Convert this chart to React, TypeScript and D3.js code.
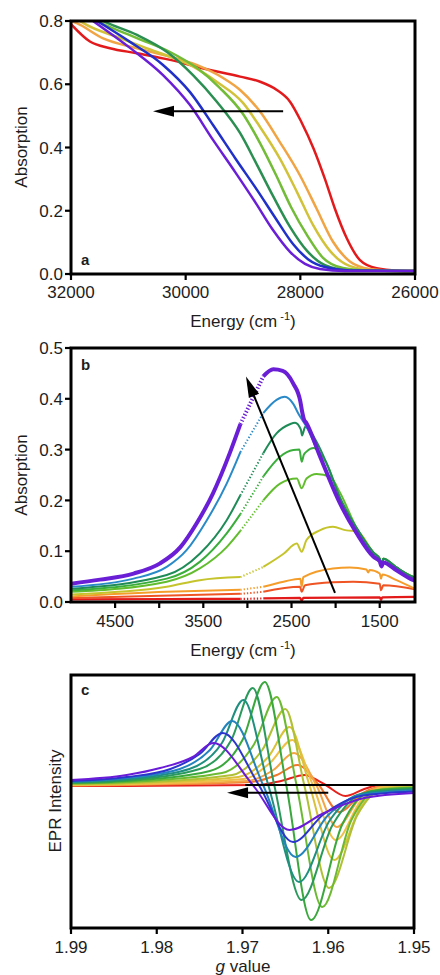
import React from "react";
import * as d3 from "d3";

type Pt = [number, number];

const FONT = "'Liberation Sans', Arial, Helvetica, sans-serif";
const INK = "#1d1d1d";

// ---------- panel a : energy (cm-1) vs absorption
const uvRed: Pt[] = [[32000, 0.79], [31670, 0.735], [31320, 0.714], [30850, 0.698], [30270, 0.677], [29690, 0.65], [29050, 0.624], [28700, 0.608], [28410, 0.582], [28180, 0.545], [27980, 0.48], [27770, 0.397], [27570, 0.3], [27400, 0.208], [27190, 0.113], [26960, 0.044], [26670, 0.018], [26300, 0.0105], [26000, 0.0095]];
const uvOrange: Pt[] = [[32000, 0.8], [31900, 0.793], [31440, 0.745], [30850, 0.714], [30270, 0.687], [29810, 0.661], [29340, 0.619], [29050, 0.582], [28700, 0.513], [28360, 0.418], [28010, 0.313], [27720, 0.208], [27430, 0.102], [27130, 0.039], [26790, 0.016], [26400, 0.0105], [26000, 0.0095]];
const uvYellow: Pt[] = [[32000, 0.82], [31791, 0.794], [31145, 0.746], [30500, 0.702], [29924, 0.661], [29453, 0.607], [29000, 0.541], [28703, 0.465], [28354, 0.364], [28058, 0.259], [27779, 0.155], [27483, 0.073], [27134, 0.025], [26697, 0.011], [26000, 0.0095]];
const uvLime: Pt[] = [[32000, 0.85], [31546, 0.8], [30849, 0.746], [30273, 0.702], [29802, 0.651], [29401, 0.588], [29000, 0.506], [28703, 0.414], [28424, 0.313], [28163, 0.212], [27883, 0.123], [27604, 0.051], [27256, 0.019], [26785, 0.011], [26000, 0.0095]];
const uvGreen: Pt[] = [[32000, 0.86], [31442, 0.8], [30849, 0.756], [30325, 0.702], [29872, 0.629], [29453, 0.544], [29052, 0.446], [28756, 0.345], [28477, 0.247], [28180, 0.149], [27883, 0.073], [27570, 0.028], [27134, 0.011], [26000, 0.0095]];
const uvBlue: Pt[] = [[32000, 0.85], [31546, 0.8], [30971, 0.734], [30395, 0.661], [29924, 0.575], [29523, 0.471], [29139, 0.367], [28756, 0.266], [28424, 0.174], [28128, 0.095], [27866, 0.047], [27570, 0.022], [27134, 0.011], [26000, 0.0095]];
const uvViolet: Pt[] = [[32000, 0.85], [31616, 0.8], [30971, 0.715], [30395, 0.629], [29924, 0.534], [29523, 0.424], [29139, 0.323], [28790, 0.228], [28477, 0.139], [28180, 0.07], [27918, 0.032], [27657, 0.016], [27221, 0.0095], [26000, 0.0095]];
const uvSeries = [uvRed, uvOrange, uvYellow, uvLime, uvGreen, uvBlue, uvViolet];
const uvColors = ["#e31a1c", "#f0a444", "#d2c23a", "#72bc38", "#2b8f52", "#2030c8", "#6a1ed6"];
const aXTicks = [32000, 30000, 28000, 26000];
const aYTicks = [0, 0.2, 0.4, 0.6, 0.8];
const aArrow: Pt[] = [[28300, 0.515], [30570, 0.515]];

// ---------- panel b : IR absorption
const irRed: Pt[] = [[5000, 0.005], [3500, 0.006], [3080, 0.006], [2820, 0.007], [2404, 0.008], [2385, 0.003], [2366, 0.008], [1500, 0.009], [1485, 0.004], [1470, 0.009], [1100, 0.01]];
const irRedOrange: Pt[] = [[5000, 0.008], [3080, 0.016], [2820, 0.02], [2404, 0.03], [2385, 0.02], [2347, 0.033], [2030, 0.039], [1800, 0.04], [1500, 0.036], [1485, 0.023], [1460, 0.033], [1100, 0.025]];
const irOrange: Pt[] = [[5000, 0.011], [3915, 0.02], [3080, 0.024], [2820, 0.03], [2590, 0.04], [2400, 0.046], [2385, 0.03], [2366, 0.049], [2030, 0.066], [1840, 0.068], [1650, 0.064], [1630, 0.058], [1615, 0.063], [1500, 0.056], [1485, 0.046], [1470, 0.054], [1310, 0.043], [1100, 0.026]];
const irYellow: Pt[] = [[5000, 0.015], [3915, 0.03], [3540, 0.043], [3080, 0.049], [2820, 0.069], [2590, 0.095], [2440, 0.115], [2385, 0.099], [2330, 0.122], [2180, 0.141], [2030, 0.148], [1875, 0.141], [1760, 0.14], [1570, 0.097], [1500, 0.085], [1480, 0.072], [1460, 0.085], [1310, 0.068], [1155, 0.052], [1100, 0.048]];
const irLime: Pt[] = [[5000, 0.02], [3915, 0.04], [3540, 0.066], [3235, 0.108], [3080, 0.14], [2820, 0.2], [2630, 0.233], [2440, 0.243], [2385, 0.224], [2330, 0.243], [2215, 0.252], [2060, 0.246], [1950, 0.215], [1760, 0.145], [1570, 0.097], [1500, 0.085], [1480, 0.072], [1460, 0.085], [1310, 0.068], [1155, 0.052], [1100, 0.048]];
const irGreen: Pt[] = [[5000, 0.023], [3915, 0.046], [3540, 0.079], [3235, 0.135], [3080, 0.173], [2820, 0.247], [2630, 0.286], [2480, 0.299], [2410, 0.3], [2385, 0.276], [2360, 0.29], [2330, 0.296], [2250, 0.303], [2100, 0.272], [1950, 0.205], [1760, 0.145], [1570, 0.097], [1500, 0.085], [1480, 0.072], [1460, 0.085], [1310, 0.068], [1155, 0.052], [1100, 0.048]];
const irDarkGreen: Pt[] = [[5000, 0.026], [3915, 0.053], [3540, 0.095], [3235, 0.161], [3080, 0.21], [2820, 0.293], [2670, 0.332], [2520, 0.35], [2460, 0.353], [2395, 0.34], [2380, 0.328], [2360, 0.338], [2345, 0.345], [2215, 0.315], [2100, 0.272], [1950, 0.205], [1760, 0.145], [1570, 0.097], [1500, 0.085], [1480, 0.072], [1460, 0.085], [1310, 0.068], [1155, 0.052], [1100, 0.048]];
const irBlue: Pt[] = [[5000, 0.03], [4290, 0.046], [3915, 0.069], [3690, 0.102], [3460, 0.161], [3235, 0.233], [3080, 0.295], [2820, 0.372], [2670, 0.398], [2575, 0.404], [2480, 0.39], [2420, 0.37], [2330, 0.345], [2180, 0.287], [1950, 0.194], [1760, 0.135], [1570, 0.089], [1500, 0.08], [1480, 0.07], [1460, 0.078], [1310, 0.0625], [1155, 0.046], [1100, 0.042]];
const irViolet: Pt[] = [[5000, 0.036], [4670, 0.044], [4290, 0.056], [3990, 0.076], [3760, 0.108], [3575, 0.155], [3390, 0.214], [3200, 0.293], [3080, 0.35], [2820, 0.444], [2706, 0.458], [2600, 0.455], [2480, 0.43], [2400, 0.395], [2380, 0.375], [2360, 0.36], [2330, 0.352], [2180, 0.288], [1950, 0.194], [1760, 0.135], [1570, 0.089], [1500, 0.08], [1480, 0.07], [1460, 0.078], [1310, 0.0625], [1155, 0.046], [1100, 0.042]];
const irSeries = [irRed, irRedOrange, irOrange, irYellow, irLime, irGreen, irDarkGreen, irBlue, irViolet];
const irColors = ["#e21a1a", "#ee5424", "#f59d2a", "#c6c42c", "#62bd2e", "#3aae3a", "#1f8c58", "#2a8ac8", "#6a1ed6"];
const irWidths = [2.2, 2, 2, 2, 2, 2, 2, 2, 4];
const bXTicks = [4500, 4000, 3500, 3000, 2500, 2000, 1500];
const bXLabels = [4500, 3500, 2500, 1500];
const bYTicks = [0, 0.1, 0.2, 0.3, 0.4, 0.5];
const bDotted: Pt = [3080, 2820];
const bArrow: Pt[] = [[2007, 0.018], [3016, 0.444]];

// ---------- panel c : EPR, g value vs intensity
const eprViolet: Pt[] = [[1.99, 0.05], [1.9835, 0.1], [1.9796, 0.17], [1.9758, 0.28], [1.9734, 0.42], [1.9688, 0], [1.9645, -0.45], [1.9605, -0.28], [1.9558, -0.13], [1.95, -0.08]];
const eprBlue: Pt[] = [[1.99, 0.04], [1.9835, 0.08], [1.9784, 0.16], [1.975, 0.31], [1.9723, 0.52], [1.9681, 0], [1.9641, -0.57], [1.9605, -0.29], [1.9562, -0.11], [1.95, -0.065]];
const eprSky: Pt[] = [[1.99, 0.035], [1.9835, 0.07], [1.9773, 0.16], [1.9738, 0.35], [1.9712, 0.64], [1.9676, 0], [1.9638, -0.72], [1.96, -0.3], [1.9562, -0.1], [1.95, -0.055]];
const eprTeal: Pt[] = [[1.99, 0.03], [1.9835, 0.06], [1.9762, 0.16], [1.9724, 0.42], [1.9699, 0.85], [1.967, 0], [1.9634, -0.97], [1.9598, -0.35], [1.9562, -0.09], [1.95, -0.045]];
const eprSea: Pt[] = [[1.99, 0.025], [1.9835, 0.05], [1.975, 0.16], [1.9713, 0.45], [1.9688, 0.97], [1.9663, 0], [1.9631, -1.15], [1.9595, -0.4], [1.9557, -0.08], [1.95, -0.04]];
const eprGreen: Pt[] = [[1.99, 0.02], [1.9835, 0.04], [1.9738, 0.14], [1.97, 0.45], [1.9674, 1.03], [1.9649, 0], [1.962, -1.35], [1.9584, -0.4], [1.955, -0.06], [1.95, -0.03]];
const eprLime: Pt[] = [[1.99, 0.015], [1.9835, 0.03], [1.9724, 0.12], [1.9687, 0.4], [1.966, 0.88], [1.9637, 0], [1.9607, -1.22], [1.9573, -0.35], [1.9542, -0.05], [1.95, -0.025]];
const eprOlive: Pt[] = [[1.99, 0.01], [1.9835, 0.02], [1.9712, 0.1], [1.9677, 0.35], [1.965, 0.76], [1.9628, 0], [1.9599, -1.03], [1.9566, -0.3], [1.9537, -0.04], [1.95, -0.02]];
const eprYellow: Pt[] = [[1.99, 0.005], [1.9835, 0.015], [1.9705, 0.08], [1.967, 0.28], [1.9645, 0.58], [1.9622, 0], [1.9593, -0.75], [1.9562, -0.22], [1.9535, -0.03], [1.95, -0.015]];
const eprGold: Pt[] = [[1.99, 0], [1.9835, 0.01], [1.9699, 0.06], [1.9668, 0.22], [1.9642, 0.45], [1.9618, 0], [1.9591, -0.55], [1.9562, -0.16], [1.9535, -0.02], [1.95, -0.01]];
const eprApricot: Pt[] = [[1.99, -0.002], [1.9835, 0.005], [1.9695, 0.04], [1.9664, 0.15], [1.964, 0.32], [1.9614, 0], [1.959, -0.42], [1.9562, -0.12], [1.9535, -0.015], [1.95, -0.005]];
const eprOrange: Pt[] = [[1.99, -0.005], [1.9835, 0], [1.9691, 0.03], [1.966, 0.1], [1.9636, 0.2], [1.9611, 0], [1.9587, -0.27], [1.956, -0.08], [1.9535, -0.01], [1.95, 0]];
const eprRed: Pt[] = [[1.99, -0.01], [1.9835, -0.01], [1.9683, 0], [1.9655, 0.04], [1.9627, 0.1], [1.9618, 0.07], [1.9603, 0], [1.958, -0.11], [1.9558, -0.04], [1.954, 0], [1.95, 0]];
const eprSeries = [eprRed, eprOrange, eprApricot, eprGold, eprYellow, eprOlive, eprLime, eprGreen, eprSea, eprTeal, eprSky, eprBlue, eprViolet];
const eprColors = ["#e5221c", "#f0782c", "#f3a444", "#efbf4a", "#d9c13a", "#b0c034", "#6cba32", "#3aa83c", "#2a9a5c", "#1f8f80", "#2383bc", "#2a36cc", "#6a1bd8"];
const cXTicks = [1.99, 1.98, 1.97, 1.96, 1.95];
const cBaseline: Pt[] = [[1.9697, 0], [1.95, 0]];
const cArrow: Pt[] = [[1.96, -0.077], [1.9718, -0.077]];

const Arrow = ({ x1, y1, x2, y2 }: { x1: number; y1: number; x2: number; y2: number }) => {
  const ang = Math.atan2(y2 - y1, x2 - x1);
  const len = 21, hw = 5.5;
  const bx = x2 - len * Math.cos(ang), by = y2 - len * Math.sin(ang);
  const px = -Math.sin(ang) * hw, py = Math.cos(ang) * hw;
  return (
    <g>
      <line x1={x1} y1={y1} x2={bx + 4 * Math.cos(ang)} y2={by + 4 * Math.sin(ang)} stroke="#000" strokeWidth={2} />
      <polygon points={`${x2},${y2} ${bx + px},${by + py} ${bx - px},${by - py}`} fill="#000" />
    </g>
  );
};

const Frame = ({ l, r, t, b }: { l: number; r: number; t: number; b: number }) => (
  <rect x={l} y={t} width={r - l} height={b - t} fill="none" stroke="#000" strokeWidth={3} />
);

export default function App() {
  // panel a
  const xA = d3.scaleLinear().domain([32000, 26000]).range([71, 415]);
  const yA = d3.scaleLinear().domain([0, 0.8]).range([274, 21]);
  const lineA = d3.line<Pt>().x(d => xA(d[0])).y(d => yA(d[1])).curve(d3.curveMonotoneX);

  // panel b
  const xB = d3.scaleLinear().domain([5000, 1100]).range([71, 415]);
  const yB = d3.scaleLinear().domain([0, 0.5]).range([602, 348]);
  const lineB = d3.line<Pt>().x(d => xB(d[0])).y(d => yB(d[1])).curve(d3.curveMonotoneX);

  // panel c
  const xC = d3.scaleLinear().domain([1.99, 1.95]).range([71, 414]);
  const yC = d3.scaleLinear().domain([-1.43, 1.1]).range([928, 675]);
  const lineC = d3.line<Pt>().x(d => xC(d[0])).y(d => yC(d[1])).curve(d3.curveMonotoneX);

  const f1 = d3.format(".1f");
  const f2 = d3.format(".2f");
  const tick = { stroke: "#000", strokeWidth: 2.2 };
  const txt = { fontFamily: FONT, fill: INK };

  const superTitle = (x: number, y: number) => (
    <text x={x} y={y} textAnchor="middle" fontSize={17} {...txt}>
      Energy (cm<tspan dy={-7} fontSize={11}> -1</tspan><tspan dy={7}>)</tspan>
    </text>
  );

  return (
    <svg width={440} height={975} style={{ position: "absolute", left: 0, top: 0, background: "#fff" }}>
      <defs>
        <clipPath id="ca"><rect x={71} y={21} width={344} height={253} /></clipPath>
        <clipPath id="cb"><rect x={71} y={348} width={344} height={254} /></clipPath>
        <clipPath id="cc"><rect x={71} y={675} width={343} height={253} /></clipPath>
      </defs>

      {/* ---- a ---- */}
      <g clipPath="url(#ca)">
        {uvSeries.map((s, i) => (
          <path key={"a" + i} d={lineA(s) || ""} fill="none" stroke={uvColors[i]} strokeWidth={2.5} />
        ))}
      </g>
      <Arrow x1={xA(aArrow[0][0])} y1={yA(aArrow[0][1])} x2={xA(aArrow[1][0])} y2={yA(aArrow[1][1])} />
      <Frame l={71} r={415} t={21} b={274} />
      {aYTicks.map(v => (
        <g key={"ay" + v}>
          <line x1={65} x2={71} y1={yA(v)} y2={yA(v)} {...tick} />
          <text x={63} y={yA(v)} dy="0.36em" textAnchor="end" fontSize={17} {...txt}>{f1(v)}</text>
        </g>
      ))}
      {aXTicks.map(v => (
        <g key={"ax" + v}>
          <line x1={xA(v)} x2={xA(v)} y1={274} y2={280} {...tick} />
          <text x={xA(v)} y={298} textAnchor="middle" fontSize={17} {...txt}>{v}</text>
        </g>
      ))}
      <text x={81} y={265} fontSize={15} fontWeight="bold" {...txt}>a</text>
      {superTitle(243, 327)}
      <text transform={`translate(27,147) rotate(-90)`} textAnchor="middle" fontSize={17} {...txt}>Absorption</text>

      {/* ---- b ---- */}
      <g clipPath="url(#cb)">
        {irSeries.map((s, i) => {
          const pre = s.filter(d => d[0] >= bDotted[0]);
          const mid = s.filter(d => d[0] <= bDotted[0] && d[0] >= bDotted[1]);
          const post = s.filter(d => d[0] <= bDotted[1]);
          return (
            <g key={"b" + i} fill="none" stroke={irColors[i]} strokeWidth={irWidths[i]}>
              <path d={lineB(pre) || ""} />
              <path d={lineB(mid) || ""} strokeDasharray="1.3 2" />
              <path d={lineB(post) || ""} />
            </g>
          );
        })}
      </g>
      <Arrow x1={xB(bArrow[0][0])} y1={yB(bArrow[0][1])} x2={xB(bArrow[1][0])} y2={yB(bArrow[1][1])} />
      <Frame l={71} r={415} t={348} b={602} />
      {bYTicks.map(v => (
        <g key={"by" + v}>
          <line x1={65} x2={71} y1={yB(v)} y2={yB(v)} {...tick} />
          <text x={63} y={yB(v)} dy="0.36em" textAnchor="end" fontSize={17} {...txt}>{f1(v)}</text>
        </g>
      ))}
      {bXTicks.map(v => (
        <line key={"bx" + v} x1={xB(v)} x2={xB(v)} y1={602} y2={608} {...tick} />
      ))}
      {bXLabels.map(v => (
        <text key={"bl" + v} x={xB(v)} y={627} textAnchor="middle" fontSize={17} {...txt}>{v}</text>
      ))}
      <text x={81} y={370} fontSize={15} fontWeight="bold" {...txt}>b</text>
      {superTitle(243, 656)}
      <text transform={`translate(27,475) rotate(-90)`} textAnchor="middle" fontSize={17} {...txt}>Absorption</text>

      {/* ---- c ---- */}
      <g clipPath="url(#cc)">
        {eprSeries.map((s, i) => (
          <path key={"c" + i} d={lineC(s) || ""} fill="none" stroke={eprColors[i]} strokeWidth={2} />
        ))}
        <path d={d3.line<Pt>().x(d => xC(d[0])).y(d => yC(d[1]))(cBaseline) || ""} stroke="#000" strokeWidth={2.2} />
      </g>
      <Arrow x1={xC(cArrow[0][0])} y1={yC(cArrow[0][1])} x2={xC(cArrow[1][0])} y2={yC(cArrow[1][1])} />
      <Frame l={71} r={414} t={675} b={928} />
      {cXTicks.map(v => (
        <g key={"cx" + v}>
          <line x1={xC(v)} x2={xC(v)} y1={928} y2={934} {...tick} />
          <text x={xC(v)} y={953} textAnchor="middle" fontSize={17} {...txt}>{f2(v)}</text>
        </g>
      ))}
      <text x={81} y={695} fontSize={15} fontWeight="bold" {...txt}>c</text>
      <text x={243} y={972} textAnchor="middle" fontSize={17} {...txt}>
        <tspan fontStyle="italic">g</tspan> value
      </text>
      <text transform={`translate(61,801) rotate(-90)`} textAnchor="middle" fontSize={17} {...txt}>EPR Intensity</text>
    </svg>
  );
}
